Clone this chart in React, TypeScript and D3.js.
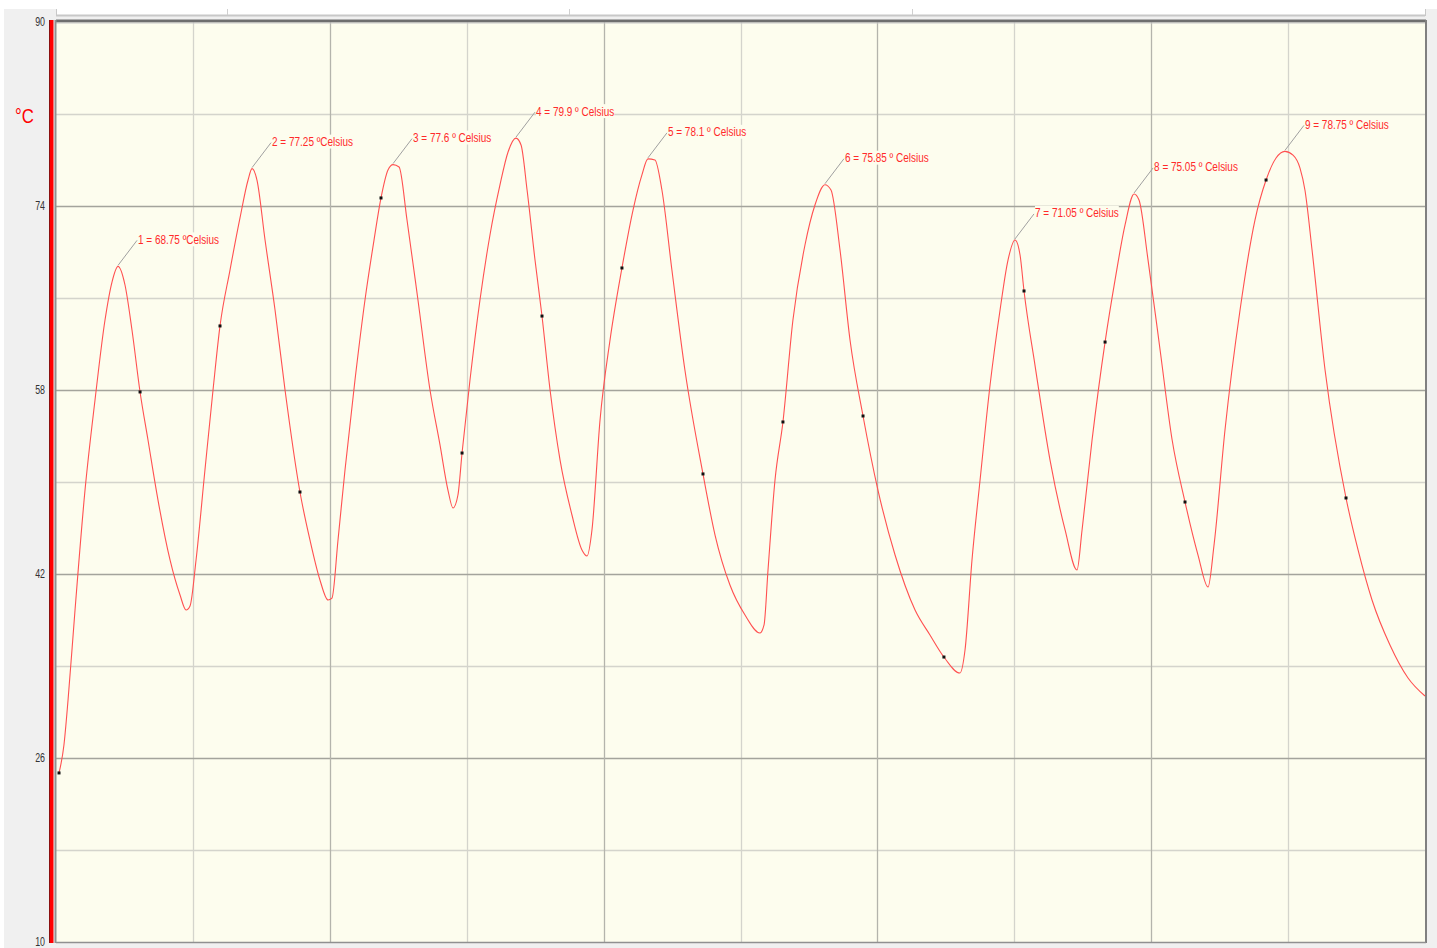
import React, { useEffect, useRef } from "react";
import * as d3 from "d3";

// time (arbitrary units 0..100) and temperature (°C)
const curveT = [0.22,0.58,0.88,1.39,2.12,2.85,3.58,4.09,4.53,5.04,5.55,6.14,6.72,7.45,8.33,9.06,9.5,9.79,10.23,10.88,11.47,11.98,12.71,13.44,14.03,14.32,14.68,15.27,16.0,16.73,17.82,18.55,19.28,19.87,20.16,20.6,21.11,21.84,22.57,23.23,23.74,24.25,24.62,25.06,25.64,26.44,27.32,28.05,28.63,29.0,29.36,29.66,30.24,30.97,31.7,32.43,33.02,33.6,33.97,34.41,34.99,35.5,36.09,36.82,37.69,38.42,38.79,39.15,39.74,40.47,41.34,42.15,42.8,43.24,43.75,44.26,44.99,45.94,47.26,48.14,49.23,50.33,51.42,51.72,52.01,52.52,53.1,53.83,54.71,55.44,56.17,56.61,57.27,58.0,58.95,60.04,61.29,62.75,63.84,64.86,66.03,66.4,66.91,67.5,68.23,68.96,69.54,70.05,70.42,70.71,71.51,72.61,73.71,74.58,74.95,75.68,76.63,77.36,78.09,78.75,79.11,79.77,80.65,81.53,82.47,83.42,84.15,84.59,85.39,86.49,87.58,88.39,89.12,89.77,90.36,90.87,91.23,91.75,92.7,94.23,95.11,96.13,97.44,98.76,100.0];
const curveV = [24.7,27.13,31.04,38.87,49.3,57.13,64.09,67.39,68.75,67.13,63.22,57.83,53.65,48.43,43.22,40.17,38.87,39.22,43.22,51.04,58.0,63.57,68.43,72.96,76.26,77.25,76.26,71.04,64.96,58.0,49.13,44.96,41.48,39.74,39.91,44.96,51.04,58.87,65.83,71.04,74.7,77.13,77.6,77.39,72.78,65.83,58.0,53.22,49.3,47.74,48.87,52.52,58.87,65.83,71.48,75.83,78.7,79.9,79.3,75.39,69.3,64.43,58.0,51.91,47.13,44.09,43.57,45.83,55.39,62.35,68.61,73.65,76.7,78.1,78.0,75.39,68.43,59.74,50.7,45.39,41.04,38.43,36.87,37.57,42.35,50.17,55.22,64.09,70.61,74.09,75.85,75.39,70.17,62.35,55.74,49.3,43.65,38.87,36.7,34.78,33.39,35.39,43.22,50.17,58.43,64.96,69.3,71.05,69.74,66.61,60.17,51.91,45.83,42.35,45.83,53.65,62.17,67.57,72.35,75.05,74.52,69.3,61.48,53.65,48.26,43.65,40.87,44.52,54.52,64.96,72.78,76.26,78.17,78.75,78.43,77.3,75.39,70.17,59.74,48.61,44.09,39.74,35.83,32.96,31.39];

const markerT = [0.22,6.14,11.98,17.82,23.74,29.66,35.5,41.34,47.26,53.1,58.95,64.86,70.71,76.63,82.47,88.39,94.23];
const markerV = [24.7,57.83,63.57,49.13,74.7,52.52,64.43,68.61,50.7,55.22,55.74,34.78,66.61,62.17,48.26,76.26,48.61];

const peakT = [4.53,14.32,24.62,33.6,43.24,56.17,70.05,78.75,89.77];
const peakV = [68.75,77.25,77.6,79.9,78.1,75.85,71.05,75.05,78.75];
const peakLabels = [
  "1 = 68.75 ºCelsius",
  "2 = 77.25 ºCelsius",
  "3 = 77.6 º Celsius",
  "4 = 79.9 º Celsius",
  "5 = 78.1 º Celsius",
  "6 = 75.85 º Celsius",
  "7 = 71.05 º Celsius",
  "8 = 75.05 º Celsius",
  "9 = 78.75 º Celsius",
];

const yTickLabels = [90, 74, 58, 42, 26, 10];
const yMinorGrid = [82, 66, 50, 34, 18];
const xMajorGrid = [20, 40, 60, 80];
const xMinorGrid = [10, 30, 50, 70, 90];
const topRulerTicks = [12.5, 37.5, 62.5];

export default function App() {
  const ref = useRef<SVGSVGElement>(null);

  useEffect(() => {
    const svg = d3.select(ref.current);
    svg.selectAll("*").remove();
    const W = 1437, H = 948;
    const L = 56, R = 1425, T = 22, B = 942;
    const x = d3.scaleLinear().domain([0, 100]).range([L, R]);
    const y = d3.scaleLinear().domain([10, 90]).range([B, T]);
    const font = "'Liberation Sans', Arial, sans-serif";
    const SX = 0.74;

    // backgrounds
    svg.append("rect").attr("x", 0).attr("y", 0).attr("width", W).attr("height", H).attr("fill", "#ffffff");
    svg.append("rect").attr("x", 4).attr("y", 9).attr("width", W - 4).attr("height", H - 9).attr("fill", "#f0f0f0");
    // top ruler strip
    svg.append("rect").attr("x", L).attr("y", 0).attr("width", R - L).attr("height", 16).attr("fill", "#ffffff");
    svg.append("line").attr("x1", L).attr("x2", R).attr("y1", 15.5).attr("y2", 15.5).attr("stroke", "#c8c8c8").attr("stroke-width", 2);
    svg.append("line").attr("x1", R + 0.5).attr("x2", R + 0.5).attr("y1", 9).attr("y2", 16).attr("stroke", "#c8c8c8");
    svg.append("line").attr("x1", L + 0.5).attr("x2", L + 0.5).attr("y1", 9).attr("y2", 16).attr("stroke", "#c8c8c8");
    svg.selectAll(".rt").data(topRulerTicks).enter().append("line")
      .attr("x1", (d) => Math.round(x(d)) + 0.5).attr("x2", (d) => Math.round(x(d)) + 0.5)
      .attr("y1", 9).attr("y2", 15).attr("stroke", "#d0d0d0");

    // plot area
    svg.append("rect").attr("x", L).attr("y", T - 2).attr("width", R - L).attr("height", B - T + 2).attr("fill", "#fdfdee");

    // grid
    const g = svg.append("g");
    g.selectAll(".ymin").data(yMinorGrid).enter().append("line")
      .attr("x1", L).attr("x2", R).attr("y1", (d) => Math.round(y(d)) + 0.5).attr("y2", (d) => Math.round(y(d)) + 0.5)
      .attr("stroke", "#d4d4cc").attr("stroke-width", 1.3);
    g.selectAll(".xmin").data(xMinorGrid).enter().append("line")
      .attr("y1", T).attr("y2", B).attr("x1", (d) => Math.round(x(d)) + 0.5).attr("x2", (d) => Math.round(x(d)) + 0.5)
      .attr("stroke", "#d4d4cc").attr("stroke-width", 1.3);
    g.selectAll(".ymaj").data(yTickLabels.filter((d) => d !== 90 && d !== 10)).enter().append("line")
      .attr("x1", L).attr("x2", R).attr("y1", (d) => Math.round(y(d)) + 0.5).attr("y2", (d) => Math.round(y(d)) + 0.5)
      .attr("stroke", "#a4a49c").attr("stroke-width", 1.3);
    g.selectAll(".xmaj").data(xMajorGrid).enter().append("line")
      .attr("y1", T).attr("y2", B).attr("x1", (d) => Math.round(x(d)) + 0.5).attr("x2", (d) => Math.round(x(d)) + 0.5)
      .attr("stroke", "#b4b4ac").attr("stroke-width", 1.3);

    // plot border
    svg.append("line").attr("x1", L).attr("x2", R + 1).attr("y1", T - 1).attr("y2", T - 1).attr("stroke", "#6e6e6e").attr("stroke-width", 3);
    svg.append("line").attr("x1", L).attr("x2", R).attr("y1", T + 1).attr("y2", T + 1).attr("stroke", "#c8c8c8").attr("stroke-width", 1);
    svg.append("line").attr("x1", L - 0.5).attr("x2", L - 0.5).attr("y1", T - 2).attr("y2", B + 1).attr("stroke", "#909090").attr("stroke-width", 2);
    svg.append("line").attr("x1", R + 1).attr("x2", R + 1).attr("y1", T - 2).attr("y2", B + 1).attr("stroke", "#808080").attr("stroke-width", 2);
    svg.append("line").attr("x1", L).attr("x2", R + 1).attr("y1", B + 0.5).attr("y2", B + 0.5).attr("stroke", "#909090").attr("stroke-width", 1.5);

    // red axis bar
    svg.append("rect").attr("x", 49).attr("y", T - 2).attr("width", 4.5).attr("height", B - T + 3).attr("fill", "#ff0000");
    svg.append("line").attr("x1", 49.5).attr("x2", 49.5).attr("y1", T - 2).attr("y2", B + 1).attr("stroke", "#8a1010").attr("stroke-width", 1);

    // y tick labels
    svg.selectAll(".yl").data(yTickLabels).enter().append("text")
      .attr("text-anchor", "end")
      .attr("transform", (d) => `translate(45,${y(d) + 4}) scale(${SX},1)`)
      .attr("font-family", font).attr("font-size", 12).attr("fill", "#333").text((d) => String(d));

    // unit label
    svg.append("text").attr("transform", "translate(15,123) scale(0.8,1)").attr("font-family", font).attr("font-size", 21)
      .attr("fill", "#ff0000").text("°C");

    // curve
    const pts = curveT.map((t, i) => [t, curveV[i]] as [number, number]);
    const line = d3.line<[number, number]>().x((d) => x(d[0])).y((d) => y(d[1])).curve(d3.curveMonotoneX);
    svg.append("path").attr("d", line(pts) as string).attr("fill", "none").attr("stroke", "#ff5050").attr("stroke-width", 1.1);

    // markers
    svg.selectAll(".mk").data(markerT.map((t, i) => [t, markerV[i]])).enter().append("rect")
      .attr("x", (d) => x(d[0]) - 1.5).attr("y", (d) => y(d[1]) - 1.5).attr("width", 3).attr("height", 3).attr("fill", "#111");

    // peak labels
    peakT.forEach((t, i) => {
      const px = x(t), py = y(peakV[i]);
      const lx = px + 19, ly = py - 27;
      svg.append("line").attr("x1", px).attr("y1", py - 1).attr("x2", lx).attr("y2", ly + 1)
        .attr("stroke", "#a0a0a0").attr("stroke-width", 1);
      const bg = svg.append("rect").attr("fill", "#fdfdee");
      const tx = svg.append("text").attr("transform", `translate(${lx + 1},${ly + 4.5}) scale(${SX},1)`)
        .attr("font-family", font).attr("font-size", 13.5).attr("fill", "#ff2a2a").text(peakLabels[i]);
      const bb = (tx.node() as SVGTextElement).getBBox();
      bg.attr("x", lx + 1 + bb.x * SX).attr("y", ly + 4.5 + bb.y + 1).attr("width", bb.width * SX).attr("height", bb.height - 2);
    });
  }, []);

  return (
    <svg ref={ref} width={1437} height={948} style={{ position: "absolute", left: 0, top: 0, display: "block" }} />
  );
}
